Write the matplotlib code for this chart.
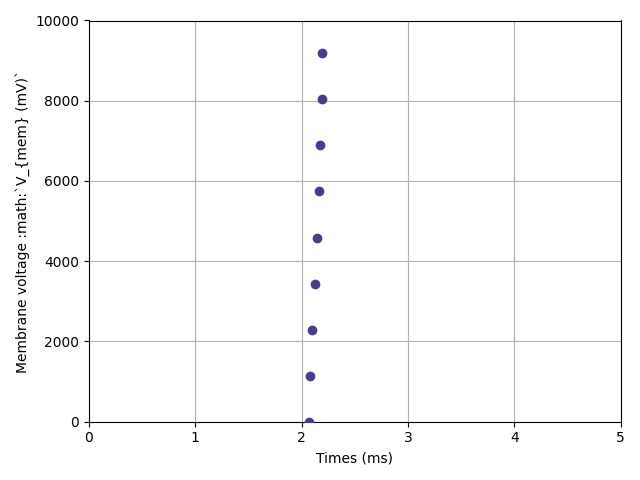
import matplotlib
matplotlib.use('Agg')
import matplotlib.pyplot as plt

times = [2.066, 2.082, 2.103, 2.122, 2.141, 2.160, 2.176, 2.188, 2.188]
v_mem = [0, 1135, 2295, 3445, 4590, 5740, 6885, 8040, 9185]

fig, ax = plt.subplots(figsize=(6.4, 4.8), dpi=100)
ax.scatter(times, v_mem, color='darkslateblue', zorder=3)
ax.set_xlim(0, 5)
ax.set_ylim(0, 10000)
ax.set_xlabel('Times (ms)')
ax.set_ylabel('Membrane voltage :math:`V_{mem} (mV)`')
ax.grid(True)
plt.tight_layout()
plt.savefig('out.png')
